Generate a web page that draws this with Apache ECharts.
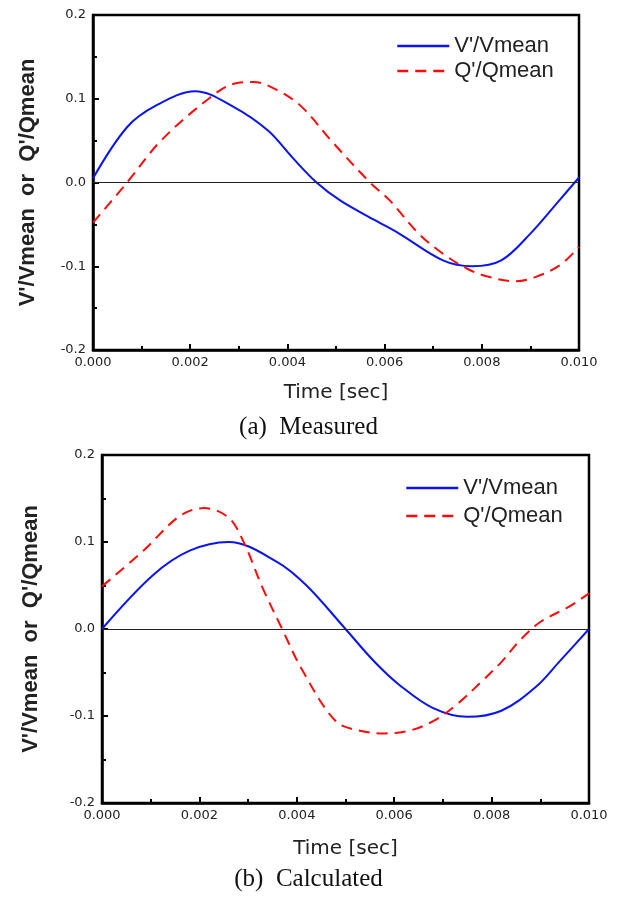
<!DOCTYPE html>
<html>
<head>
<meta charset="utf-8">
<script src="https://cdn.jsdelivr.net/npm/echarts@6/dist/echarts.min.js"></script>
<style>
html,body{margin:0;padding:0;background:#fff;}
#main{width:617px;height:900px;}
</style>
</head>
<body>
<div id="main"></div>
<script>
// (a) Measured
var tVa = [0, 0.0007, 0.0013, 0.0021, 0.0029, 0.0036, 0.0041, 0.0046, 0.0051, 0.0058, 0.0063, 0.0072, 0.0078, 0.0084, 0.0090, 0.0096, 0.0100];
var vA  = [0.005, 0.066, 0.092, 0.109, 0.090, 0.062, 0.030, 0.0, -0.022, -0.045, -0.061, -0.093, -0.100, -0.093, -0.061, -0.021, 0.006];
var tQa = [0, 0.0007, 0.0014, 0.0024, 0.0029, 0.0033, 0.0038, 0.0043, 0.0049, 0.0057, 0.0061, 0.0067, 0.0072, 0.0077, 0.0081, 0.0087, 0.0091, 0.0096, 0.0100];
var qA  = [-0.048, 0.0, 0.050, 0.101, 0.118, 0.120, 0.110, 0.090, 0.050, 0.0, -0.021, -0.061, -0.085, -0.103, -0.112, -0.118, -0.113, -0.099, -0.077];
// (b) Calculated
var tVb = [0, 0.00105, 0.0018, 0.0026, 0.0036, 0.0042, 0.0050, 0.0056, 0.0061, 0.0068, 0.0075, 0.0082, 0.0089, 0.0094, 0.0100];
var vB  = [0.0, 0.062, 0.090, 0.100, 0.077, 0.050, 0.0, -0.038, -0.064, -0.091, -0.101, -0.094, -0.067, -0.037, 0.0];
var tQb = [0, 0.00085, 0.0016, 0.0021, 0.0026, 0.0029, 0.0033, 0.0037, 0.0041, 0.0048, 0.0053, 0.0058, 0.0063, 0.0068, 0.0073, 0.0078, 0.0082, 0.0086, 0.0090, 0.0096, 0.0100];
var qB  = [0.049, 0.090, 0.130, 0.139, 0.128, 0.101, 0.047, 0.0, -0.046, -0.106, -0.117, -0.120, -0.117, -0.106, -0.086, -0.060, -0.038, -0.012, 0.008, 0.026, 0.041];

var nameV = "V'/Vmean";
var nameQ = "Q'/Qmean";
var yTitle = "V'/Vmean  or  Q'/Qmean";
var xTitle = "Time [sec]";
var captions = ["(a)  Measured", "(b)  Calculated"];

function pairs(t, v){ return t.map(function(x,i){ return [x, v[i]]; }); }

var labelFont = {fontFamily:'"DejaVu Sans", Arial', fontSize:13, color:'#222'};
function xAxis(idx, gap){
  return {
    gridIndex: idx, type:'value', min:0, max:0.01, interval:0.002,
    axisLine:{show:true, onZero:false, lineStyle:{color:'#000', width:2.5}},
    axisTick:{show:true, inside:true, length:6, lineStyle:{color:'#000', width:2}},
    minorTick:{show:true, splitNumber:2, length:4, lineStyle:{color:'#000', width:2}},
    splitLine:{show:false},
    axisLabel:Object.assign({margin:6, formatter:function(v){return v.toFixed(3);}}, labelFont),
    name:xTitle, nameLocation:'middle', nameGap:gap,
    nameTextStyle:{fontFamily:'"DejaVu Sans", Arial', fontSize:20, color:'#222'}
  };
}
function yAxis(idx, gap){
  return {
    gridIndex: idx, type:'value', min:-0.2, max:0.2, interval:0.1,
    axisLine:{show:true, onZero:false, lineStyle:{color:'#000', width:2.5}},
    axisTick:{show:true, inside:true, length:6, lineStyle:{color:'#000', width:2}},
    minorTick:{show:true, splitNumber:2, length:4, lineStyle:{color:'#000', width:2}},
    splitLine:{show:false},
    axisLabel:Object.assign({margin:7, formatter:function(v){return v.toFixed(1);}}, labelFont),
    name:yTitle, nameLocation:'middle', nameGap:gap,
    nameTextStyle:{fontFamily:'Arial, "Liberation Sans"', fontSize:22, color:'#222', fontWeight:'bold'}
  };
}
var zeroLine = {silent:true, symbol:['none','none'], label:{show:false},
  lineStyle:{color:'#222', width:1.2, type:'solid'}, data:[{yAxis:0}]};

var blue = '#0a14f0', red = '#ff0a0a';
var legendText = {fontFamily:'Arial, "Liberation Sans"', fontSize:22, color:'#222'};
var chart = echarts.init(document.getElementById('main'));
chart.setOption({
  animation:false,
  backgroundColor:'#fff',
  grid:[
    {left:93, top:15, width:486, height:335, show:true, borderColor:'#000', borderWidth:2.5, backgroundColor:'transparent'},
    {left:102, top:455, width:487, height:348, show:true, borderColor:'#000', borderWidth:2.5, backgroundColor:'transparent'}
  ],
  xAxis:[xAxis(0, 33), xAxis(1, 36)],
  yAxis:[yAxis(0, 54), yAxis(1, 60)],
  legend:[
    {left:396, top:35, orient:'vertical', itemWidth:52, itemHeight:22, itemGap:3, data:[nameV, nameQ],
     itemStyle:{opacity:0}, lineStyle:{width:2.5}, textStyle:legendText, selectedMode:false, padding:0},
    {left:405, top:477, orient:'vertical', itemWidth:52, itemHeight:22, itemGap:6, data:[nameV, nameQ],
     itemStyle:{opacity:0}, lineStyle:{width:2.5}, textStyle:legendText, selectedMode:false, padding:0}
  ],
  graphic:[
    {type:'text', left:'center', top:415, style:{text:captions[0], font:'25px "Liberation Serif", "Times New Roman", serif', fill:'#111'}},
    {type:'text', left:'center', top:867, style:{text:captions[1], font:'25px "Liberation Serif", "Times New Roman", serif', fill:'#111'}}
  ],
  series:[
    {name:nameV, type:'line', xAxisIndex:0, yAxisIndex:0, data:pairs(tVa, vA), smooth:0.35, symbol:'none',
     lineStyle:{color:blue, width:2}, itemStyle:{color:blue}, markLine:zeroLine},
    {name:nameQ, type:'line', xAxisIndex:0, yAxisIndex:0, data:pairs(tQa, qA), smooth:0.35, symbol:'none',
     lineStyle:{color:red, width:2, type:[11,7]}, itemStyle:{color:red}},
    {name:nameV, type:'line', xAxisIndex:1, yAxisIndex:1, data:pairs(tVb, vB), smooth:0.35, symbol:'none',
     lineStyle:{color:blue, width:2}, itemStyle:{color:blue}, markLine:zeroLine},
    {name:nameQ, type:'line', xAxisIndex:1, yAxisIndex:1, data:pairs(tQb, qB), smooth:0.35, symbol:'none',
     lineStyle:{color:red, width:2, type:[11,7]}, itemStyle:{color:red}}
  ]
});
</script>
</body>
</html>
